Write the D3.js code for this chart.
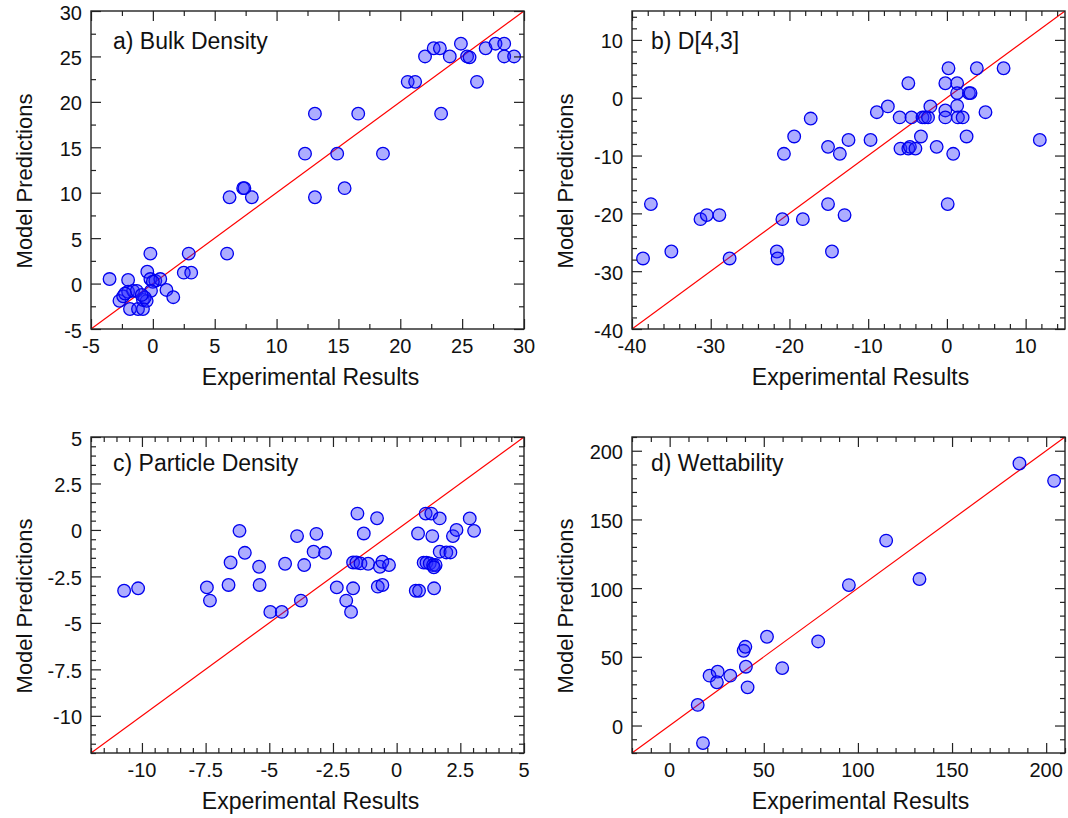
<!DOCTYPE html>
<html>
<head>
<meta charset="utf-8">
<script src="https://cdn.jsdelivr.net/npm/d3@7/dist/d3.min.js"></script>
<style>
  body { margin: 0; background: #fff; }
  svg text { font-family: "Liberation Sans", Arial, sans-serif; fill: #111; }
</style>
</head>
<body>
<div id="chart"></div>
<script>
// panel titles
const titles = ["a) Bulk Density", "b) D[4,3]", "c) Particle Density", "d) Wettability"];

// [experimental, predicted] pairs
const bulkDensity = [
  [22.0, 25.0], [22.7, 25.9], [23.2, 25.9], [24.0, 25.0], [24.9, 26.4], [25.4, 25.0], [25.6, 24.9],
  [26.9, 25.9], [27.7, 26.4], [28.4, 26.4], [28.4, 25.0], [29.2, 25.0], [20.6, 22.2], [21.2, 22.2],
  [26.2, 22.2], [23.3, 18.7], [13.1, 18.7], [16.6, 18.7], [12.3, 14.3], [14.9, 14.3], [18.6, 14.3],
  [15.5, 10.5], [13.1, 9.5], [6.2, 9.5], [7.3, 10.5], [7.4, 10.5], [8.0, 9.5], [6.0, 3.3],
  [2.9, 3.3], [-0.2, 3.3], [2.5, 1.2], [3.1, 1.2], [-3.5, 0.5], [-2.0, 0.4], [-0.45, 1.3],
  [-0.2, 0.5], [0.2, 0.3], [0.6, 0.5], [0.0, 0.2], [1.1, -0.7], [1.65, -1.5], [-0.15, -0.8],
  [-2.7, -1.9], [-2.4, -1.4], [-2.0, -0.9], [-1.6, -0.8], [-1.3, -0.8], [-2.25, -1.1],
  [-1.85, -2.8], [-1.2, -2.8], [-0.8, -2.8], [-0.8, -1.8], [-0.5, -1.9], [-0.65, -1.55], [-0.9, -1.25]
];
const d43 = [
  [-38.6, -27.8], [-37.6, -18.4], [-35.0, -26.6], [-31.3, -21.0], [-30.5, -20.3], [-28.9, -20.3],
  [-27.6, -27.8], [-21.6, -26.6], [-21.5, -27.8], [-20.9, -21.0], [-20.7, -9.7], [-19.4, -6.7],
  [-18.3, -21.0], [-17.3, -3.6], [-15.1, -18.4], [-15.1, -8.5], [-14.6, -26.6], [-13.6, -9.7],
  [-13.0, -20.3], [-12.5, -7.3], [-9.7, -7.3], [-8.9, -2.5], [-7.5, -1.5], [-6.0, -3.4],
  [-5.9, -8.8], [-4.9, 2.5], [-4.9, -8.8], [-4.7, -8.5], [-4.0, -8.8], [-4.5, -3.4], [-3.3, -6.7],
  [-3.1, -3.4], [-2.8, -3.4], [-2.4, -3.4], [-2.1, -1.5], [-1.3, -8.5], [-0.2, 2.5], [0.2, 5.1],
  [-0.2, -2.2], [-0.2, -3.4], [0.1, -18.4], [0.8, -9.7], [1.3, 2.5], [1.3, 0.8], [1.3, -1.4],
  [1.4, -3.4], [2.0, -3.4], [2.8, 0.8], [3.0, 0.8], [2.5, -6.7], [3.8, 5.1], [4.9, -2.5],
  [7.2, 5.1], [11.8, -7.3]
];
const particleDensity = [
  [-10.7, -3.27], [-10.15, -3.14], [-7.45, -3.09], [-7.33, -3.8], [-6.6, -2.96], [-6.52, -1.75],
  [-6.17, -0.05], [-5.96, -1.23], [-5.4, -1.98], [-5.38, -2.96], [-4.96, -4.41], [-4.51, -4.41],
  [-4.38, -1.82], [-3.91, -0.33], [-3.76, -3.8], [-3.63, -1.89], [-3.26, -1.17], [-3.15, -0.21],
  [-2.81, -1.23], [-2.35, -3.09], [-1.98, -3.8], [-1.79, -4.41], [-1.71, -3.14], [-1.71, -1.75],
  [-1.58, -1.75], [-1.42, -1.8], [-1.54, 0.88], [-1.29, -0.19], [-1.12, -1.82], [-0.77, 0.63],
  [-0.74, -3.05], [-0.56, -2.96], [-0.66, -1.98], [-0.56, -1.71], [-0.3, -1.89], [0.84, -0.19],
  [0.75, -3.27], [0.88, -3.27], [1.06, -1.76], [1.17, -1.76], [1.3, -1.8], [1.43, -1.89],
  [1.53, -1.89], [1.46, -2.01], [1.14, 0.88], [1.36, 0.88], [1.4, -0.33], [1.47, -3.14],
  [1.69, 0.62], [1.69, -1.17], [1.95, -1.21], [2.11, -1.21], [2.21, -0.33], [2.35, 0.0],
  [2.87, 0.62], [3.04, -0.05]
];
const wettability = [
  [14.9, 15.0], [17.7, -12.8], [21.2, 36.3], [25.5, 39.2], [25.1, 31.5], [32.2, 36.3],
  [39.3, 54.4], [40.2, 57.3], [40.5, 42.8], [41.4, 27.8], [51.7, 64.6], [59.8, 41.8],
  [78.9, 61.2], [95.2, 102.2], [115.0, 134.6], [132.7, 106.6], [185.8, 190.7], [204.2, 178.1]
];

// axis ranges (same on x and y) and tick spacings
const domains = [[-5, 30], [-40, 15], [-12, 5], [-20, 210]];
const majorSteps = [5, 10, 2.5, 50];
const minorSteps = [2.5, 2, 0.5, 10];
const tickLabels = [
  ["-5", "0", "5", "10", "15", "20", "25", "30"],
  ["-40", "-30", "-20", "-10", "0", "10"],
  ["-10", "-7.5", "-5", "-2.5", "0", "2.5", "5"],
  ["0", "50", "100", "150", "200"]
];
const datasets = [bulkDensity, d43, particleDensity, wettability];

const W = 1068, H = 818;
const frames = [
  { x: 91, y: 11, w: 433, h: 318, titleY: 38, xTitleShift: 3 },
  { x: 632, y: 11, w: 433, h: 318, titleY: 38, xTitleShift: 12 },
  { x: 91, y: 437, w: 433, h: 316, titleY: 34, xTitleShift: 3 },
  { x: 632, y: 437, w: 433, h: 316, titleY: 34, xTitleShift: 12 }
];

const svg = d3.select("#chart").append("svg")
  .attr("width", W)
  .attr("height", H);

function ticksFor(dom, step) {
  const out = [];
  const start = Math.ceil(dom[0] / step - 1e-9);
  const end = Math.floor(dom[1] / step + 1e-9);
  for (let i = start; i <= end; i++) out.push(+(i * step).toFixed(4));
  return out;
}

frames.forEach((f, i) => {
  const dom = domains[i];
  const x = d3.scaleLinear().domain(dom).range([0, f.w]);
  const y = d3.scaleLinear().domain(dom).range([f.h, 0]);
  const g = svg.append("g").attr("transform", `translate(${f.x},${f.y})`);

  const clipId = "clip" + i;
  g.append("clipPath").attr("id", clipId)
    .append("rect").attr("width", f.w).attr("height", f.h);

  // 1:1 line
  g.append("line")
    .attr("clip-path", `url(#${clipId})`)
    .attr("x1", x(dom[0])).attr("y1", y(dom[0]))
    .attr("x2", x(dom[1])).attr("y2", y(dom[1]))
    .attr("stroke", "#ff0000")
    .attr("stroke-width", 1.2);

  // points
  g.append("g")
    .selectAll("circle")
    .data(datasets[i])
    .join("circle")
    .attr("cx", d => x(d[0]))
    .attr("cy", d => y(d[1]))
    .attr("r", 6.3)
    .attr("fill", "rgba(40,40,255,0.38)")
    .attr("stroke", "#0000ee")
    .attr("stroke-width", 1.3);

  // ticks on all four sides, pointing inward
  const majors = ticksFor(dom, majorSteps[i]);
  const minors = ticksFor(dom, minorSteps[i]).filter(v => !majors.some(m => Math.abs(m - v) < 1e-6));
  const labelFor = v => tickLabels[i].includes(String(v)) ? String(v) : "";

  const addAxis = (axisFn, scale, tx, ty) => {
    const a = g.append("g").attr("transform", `translate(${tx},${ty})`);
    a.call(axisFn(scale).tickValues(minors).tickSize(5).tickFormat(""));
    const b = g.append("g").attr("transform", `translate(${tx},${ty})`);
    b.call(axisFn(scale).tickValues(majors).tickSize(10).tickFormat(""));
    [a, b].forEach(s => {
      s.select(".domain").remove();
      s.selectAll("line").attr("stroke", "#222").attr("stroke-width", 1.2);
    });
  };
  // bottom/top ticks point inward: use axisTop at bottom, axisBottom at top
  addAxis(d3.axisTop, x, 0, f.h);
  addAxis(d3.axisBottom, x, 0, 0);
  addAxis(d3.axisRight, y, 0, 0);
  addAxis(d3.axisLeft, y, f.w, 0);

  // frame
  g.append("rect")
    .attr("width", f.w).attr("height", f.h)
    .attr("fill", "none")
    .attr("stroke", "#222")
    .attr("stroke-width", 1.4);

  // tick labels
  g.append("g").selectAll("text")
    .data(majors.filter(v => labelFor(v)))
    .join("text")
    .attr("x", d => x(d))
    .attr("y", f.h + 24)
    .attr("text-anchor", "middle")
    .style("font-size", "20px")
    .text(d => labelFor(d));

  g.append("g").selectAll("text")
    .data(majors.filter(v => labelFor(v)))
    .join("text")
    .attr("x", -9)
    .attr("y", d => y(d) + 8.5)
    .attr("text-anchor", "end")
    .style("font-size", "20px")
    .text(d => labelFor(d));

  // axis titles
  g.append("text")
    .attr("x", f.w / 2 + f.xTitleShift)
    .attr("y", f.h + 56)
    .attr("text-anchor", "middle")
    .style("font-size", "23px")
    .text("Experimental Results");

  g.append("text")
    .attr("transform", `translate(${-59},${f.h / 2 + 11}) rotate(-90)`)
    .attr("text-anchor", "middle")
    .style("font-size", "22px")
    .text("Model Predictions");

  // panel title
  g.append("text")
    .attr("x", i % 2 === 0 ? 22 : 19)
    .attr("y", f.titleY)
    .style("font-size", "23px")
    .text(titles[i]);
});
</script>
</body>
</html>
